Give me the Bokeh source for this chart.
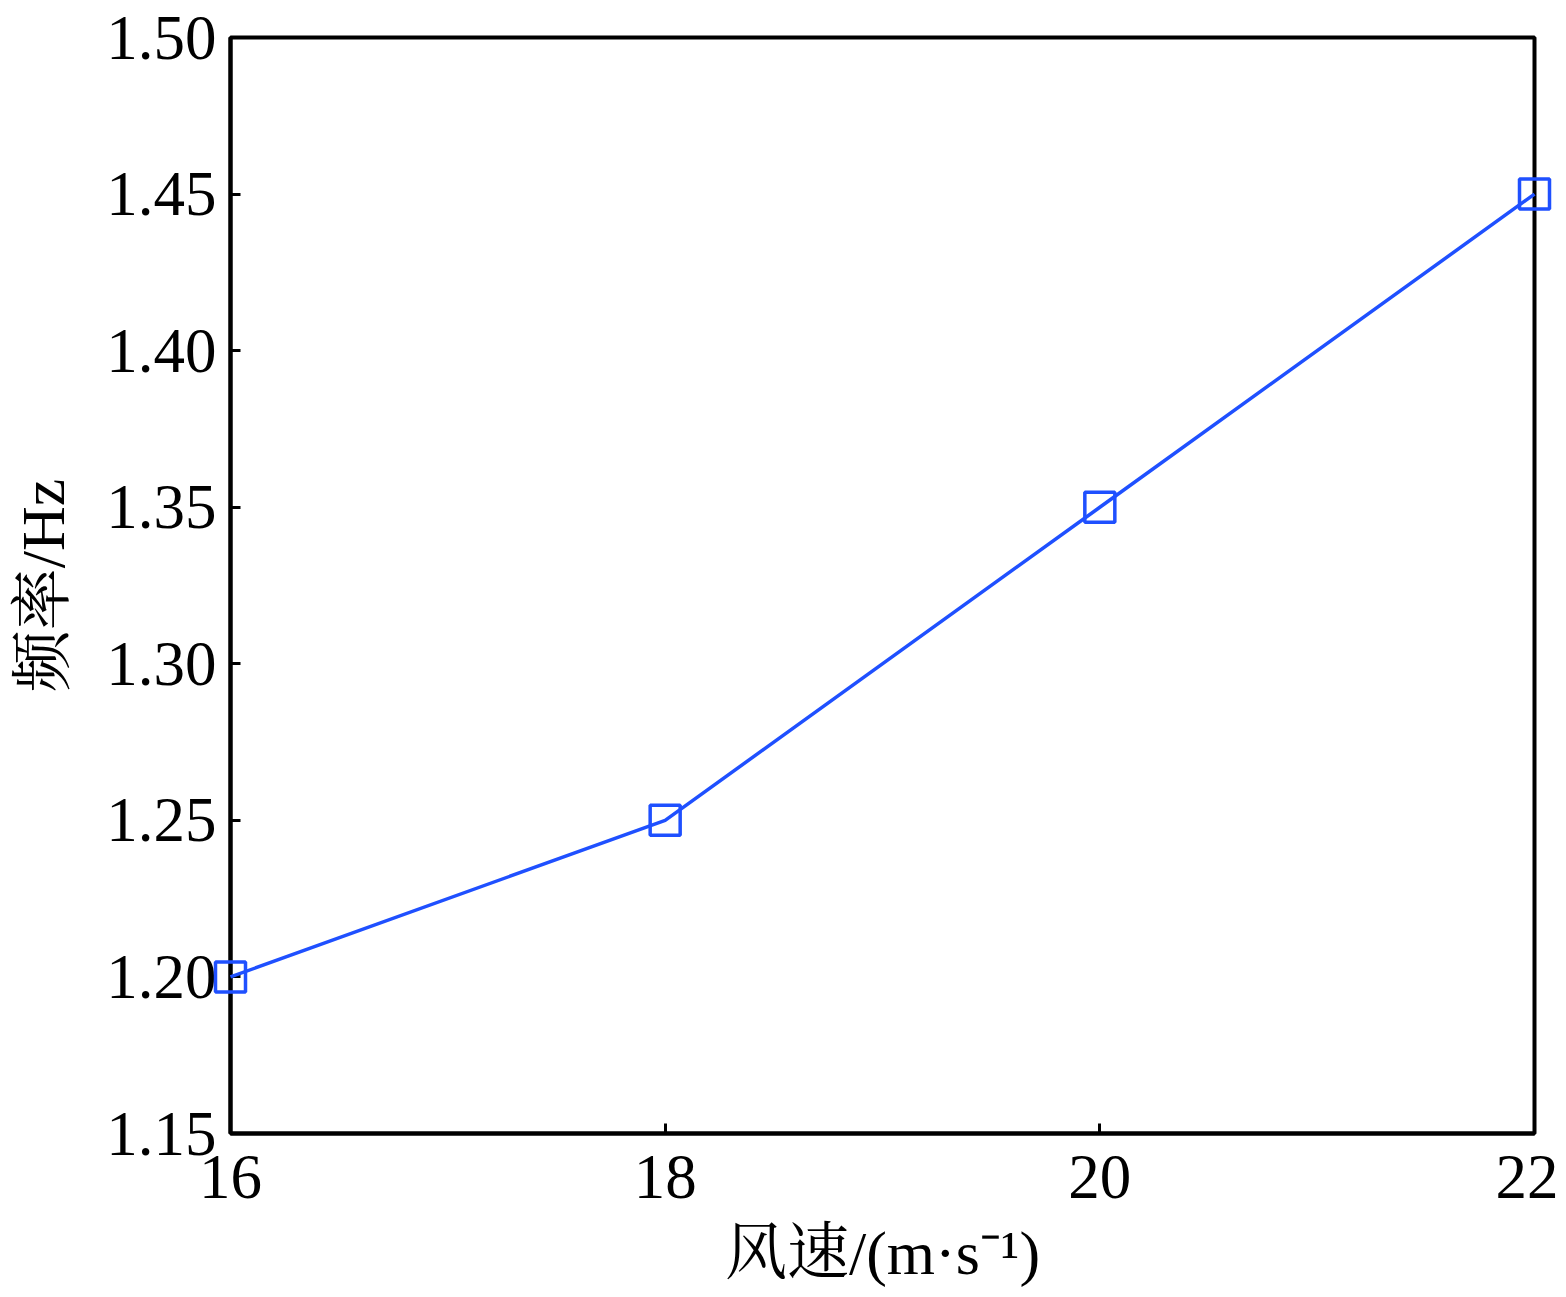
from bokeh.plotting import figure
from bokeh.embed import file_html
from bokeh.resources import INLINE
from bokeh.models import FixedTicker, Range1d, CustomJSTickFormatter

wind_speed = [16, 18, 20, 22]
frequency = [1.20, 1.25, 1.35, 1.45]
x_ticks = [16, 18, 20, 22]
y_ticks = [1.15, 1.20, 1.25, 1.30, 1.35, 1.40, 1.45, 1.50]

SERIF = "'Liberation Serif', 'Times New Roman', 'Noto Serif CJK SC', 'Noto Sans CJK SC', serif"
BLUE = "#1f50ff"

p = figure(width=1558, height=1289, output_backend="svg", toolbar_location=None,
           x_range=Range1d(16, 22), y_range=Range1d(1.15, 1.50))
p.min_border_left = 230
p.min_border_right = 24
p.min_border_top = 37
p.min_border_bottom = 156

p.grid.visible = False
p.outline_line_color = "black"
p.outline_line_width = 4
p.background_fill_color = "white"
p.border_fill_color = "white"

for ax in (p.xaxis[0], p.yaxis[0]):
    ax.axis_line_color = "black"
    ax.axis_line_width = 4
    ax.major_tick_in = 10
    ax.major_tick_out = 0
    ax.major_tick_line_width = 3
    ax.major_tick_line_color = "black"
    ax.minor_tick_line_color = None
    ax.major_label_text_font = SERIF
    ax.major_label_text_font_size = "63px"
    ax.major_label_text_color = "black"
    ax.axis_label_text_font = SERIF
    ax.axis_label_text_font_size = "62px"
    ax.axis_label_text_font_style = "normal"
    ax.axis_label_text_color = "black"

p.xaxis.ticker = FixedTicker(ticks=x_ticks)
p.yaxis.ticker = FixedTicker(ticks=y_ticks)
p.yaxis.formatter = CustomJSTickFormatter(code="return tick.toFixed(2);")
p.xaxis.major_label_standoff = 22
p.yaxis.major_label_standoff = 14
p.xaxis.axis_label = "风速/(m·s⁻¹)"
p.yaxis.axis_label = "频率/Hz"
p.xaxis.axis_label_standoff = 18
p.yaxis.axis_label_standoff = 26

p.line(wind_speed, frequency, line_color=BLUE, line_width=3.5, level="overlay")
p.scatter(wind_speed, frequency, marker="square", size=30, fill_color=None,
          line_color=BLUE, line_width=3.5, level="overlay")

open("out.html", "w").write(file_html(p, INLINE))
